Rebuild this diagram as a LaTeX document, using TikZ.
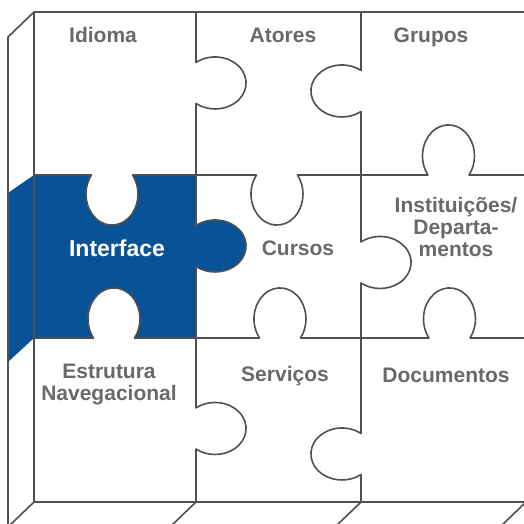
\documentclass[tikz,border=0pt]{standalone}
\usepackage{fontspec}
\setmainfont{Liberation Sans}
\usetikzlibrary{positioning}
\definecolor{seamgrey}{RGB}{80,80,80}
\definecolor{labelgrey}{RGB}{105,105,105}
\definecolor{pieceblue}{RGB}{8,82,152}
\tikzset{seam/.style={draw=seamgrey, line width=1.6pt, line join=round}}
\tikzset{piecetext/.style={text=labelgrey, font=\bfseries\fontsize{21}{22}\selectfont, align=center, inner sep=0pt}}
% knob arcs: h = on a horizontal seam, v = on a vertical seam
\tikzset{hdown/.style={start angle=142, end angle=398, x radius=26, y radius=31}}
\tikzset{hup/.style={start angle=218, end angle=-38, x radius=26, y radius=31}}
\tikzset{hupback/.style={start angle=-38, end angle=218, x radius=26, y radius=31}}
\tikzset{vright/.style={start angle=128, end angle=-128, x radius=31, y radius=26}}
\tikzset{vleft/.style={start angle=52, end angle=308, x radius=31, y radius=26}}

\begin{document}
\begin{tikzpicture}[x=1pt,y=1pt]
   \clip (0,0) rectangle (524,524);
   \fill[white] (0,0) rectangle (524,524);

   % the blue piece and its side
   \fill[pieceblue] (34,349) -- (91.5,349) arc[hdown] -- (196,349)
      -- (196,298.5) arc[vright] -- (196,186)
      -- (134.5,186) arc[hupback] -- (34,186) -- cycle;
   \fill[pieceblue] (34,349) -- (8,331) -- (8,162) -- (34,186) -- cycle;

   % frame and depth
   \draw[seam] (8,-5) -- (8,487) -- (34,512) -- (526,512);
   \draw[seam] (34,512) -- (34,22) -- (526,22) -- (526,512);
   \foreach \x in {34,196,361,526}
      \draw[seam] (\x,22) -- ++(-26,-25);

   % seams
   \draw[seam] (34,349) -- (91.5,349) arc[hdown] -- (256.5,349) arc[hdown]
      -- (428,349) arc[hup] -- (526,349);
   \draw[seam] (34,186) -- (93.5,186) arc[hup] -- (259.5,186) arc[hup]
      -- (429,186) arc[hup] -- (526,186);
   \draw[seam] (196,512) -- (196,461.5) arc[vright] -- (196,298.5) arc[vright]
      -- (196,116) arc[vright] -- (196,22);
   \draw[seam] (361,512) -- (361,453.5) arc[vleft] -- (361,282) arc[vright]
      -- (361,90.5) arc[vleft] -- (361,22);

   \node[piecetext, anchor=base] (idioma) at (103,481) {Idioma};
   \node[piecetext, anchor=base] (atores) at (283,481) {Atores};
   \node[piecetext, anchor=base] (grupos) at (431,481) {Grupos};
   \node[piecetext, anchor=base, text=white, font=\bfseries\fontsize{23}{24}\selectfont] (interface) at (117,267) {Interface};
   \node[piecetext, anchor=base] (cursos) at (298,268) {Cursos};
   \node[piecetext] (instituicoes) at (456,297) {Instituições/\\Departa-\\mentos};
   \node[piecetext] (estrutura) at (109,139) {Estrutura\\Navegacional};
   \node[piecetext, anchor=base] (servicos) at (285,142) {Serviços};
   \node[piecetext, anchor=base] (documentos) at (446,141) {Documentos};
\end{tikzpicture}
\end{document}
